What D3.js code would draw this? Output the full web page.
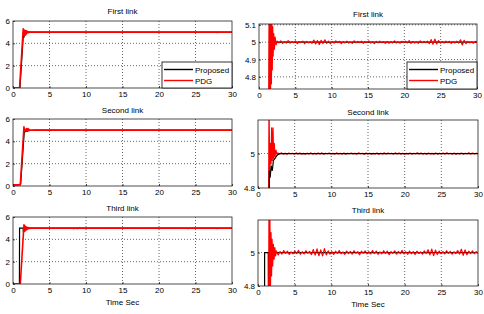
<!DOCTYPE html>
<html lang="en">
<head>
<meta charset="utf-8">
<title>Link tracking</title>
<script src="https://cdn.jsdelivr.net/npm/d3@7"></script>
<style>
  body { margin: 0; background: #fff; }
  text { font-family: "Liberation Sans", Arial, sans-serif; fill: #000; }
  .grid line { stroke: #000; stroke-width: 0.8; stroke-dasharray: 1,2; opacity: 0.75; }
</style>
</head>
<body>
<div id="chart"></div>
<script>
// ---- data ----
const titles = ["First link", "Second link", "Third link"];
const legendLabels = ["Proposed", "PDG"];
const xTicks = [0, 5, 10, 15, 20, 25, 30];
const yTicksFull = [0, 2, 4, 6];
const yTicksZoomA = [4.8, 4.9, 5, 5.1];
const yTicksZoomB = [4.8, 5];

// transient part of each response, [time, value]
const propFirst = [[0,0],[0.95,0],[1.45,5.1],[1.5,4.5],[1.6,4.98],[1.8,5.01],[2.0,5.0],[30,5.0]];
const pdgFirst = [[0,0],[0.9,0],[1.4,5.3],[1.47,4.72],[1.53,5.2],[1.59,4.7],[1.65,5.15],[1.71,4.76],
  [1.77,5.12],[1.83,4.84],[1.89,5.09],[1.95,4.92],[2.03,5.05],[2.12,4.96],[2.22,5.03],[2.35,4.985]];
const propSecond = [[0,0.1],[0.9,0.15],[1.05,0.2],[1.55,4.9],[1.65,4.86],[1.8,4.93],[1.95,4.9],
  [2.1,4.96],[2.3,4.97],[2.6,4.99],[3.0,5.0],[30,5.0]];
const pdgSecond = [[0,0.1],[1.0,0.1],[1.5,5.3],[1.6,4.9],[1.7,5.06],[1.78,4.94],[1.86,5.15],[1.95,4.96],
  [2.05,5.15],[2.13,4.97],[2.22,5.06],[2.32,4.98],[2.45,5.02],[2.6,4.995]];
const propThird = [[0,0],[0.88,0],[0.9,5.0],[1.4,5.0],[1.42,4.7],[1.5,4.72],[1.56,5.0],[30,5.0]];
const pdgThird = [[0,0],[1.0,0],[1.5,5.3],[1.56,4.7],[1.62,5.22],[1.7,4.78],[1.78,5.12],[1.85,4.86],
  [1.92,5.08],[2.0,4.92],[2.1,5.05],[2.2,4.96],[2.3,5.03],[2.4,4.98]];

// steady-state chatter of PDG around 5, in thousandths, evenly spaced up to t = 30
const noiseFirst = [
  6,-4,8,-7,3,-5,9,-6,2,-3, 7,-8,4,-2,6,-9,5,-4,3,-6,
  12,-10,9,-13,11,-8,14,-7,6,-9, 4,-5,7,-3,5,-8,3,-4,6,-5,
  2,-7,8,-4,5,-3,6,-6,4,-2, 7,-5,3,-8,5,-4,6,-3,4,-7,
  5,-6,3,-4,8,-5,2,-6,5,-3, 6,-4,9,-7,4,-5,3,-6,7,-4,
  5,-3,6,-8,15,-12,18,-10,9,-6, 4,-5,6,-3,5,-7,3,-4,6,-5,
  14,-16,11,-9,5,-4,3,-6,5,-2];
const noiseSecond = [
  3,-2,4,-3,2,-4,3,-1,2,-3, 4,-2,3,-4,1,-3,2,-2,4,-3,
  2,-3,3,-2,4,-4,2,-1,3,-2, 1,-3,4,-2,2,-3,3,-4,2,-1,
  3,-2,2,-3,4,-1,2,-4,3,-2, 2,-3,1,-2,3,-4,2,-2,4,-3,
  3,-1,2,-3,4,-2,3,-3,2,-4, 1,-2,3,-3,2,-1,4,-2,3,-3,
  2,-4,3,-2,1,-3,4,-3,2,-2, 3,-2,4,-1,2,-3,3,-4,2,-2,
  3,-3,2,-1,4,-2,3,-2,2,-1];
const noiseThird = [
  10,-14,6,-9,12,-5,8,-11,4,-7, 9,-6,13,-10,5,-8,11,-4,7,-12,
  18,-15,22,-19,16,-20,24,-14,10,-9, 6,-11,8,-5,12,-7,4,-10,9,-6,
  7,-9,11,-4,6,-13,8,-5,10,-7, 5,-8,12,-6,9,-10,4,-7,11,-5,
  8,-12,6,-4,10,-9,7,-6,13,-8, 5,-10,9,-7,6,-11,8,-5,4,-9,
  10,-6,17,-14,21,-18,15,-12,9,-7, 6,-8,11,-5,7,-10,5,-6,12,-9,
  20,-17,16,-13,8,-6,10,-7,6,-4];

function withNoise(transient, noise, tStart) {
  const step = (30 - tStart) / (noise.length - 1);
  return transient.concat(noise.map((d, i) => [tStart + i * step, 5 + d / 1000]));
}

const proposed = [propFirst, propSecond, propThird];
const pdg = [withNoise(pdgFirst, noiseFirst, 2.5),
             withNoise(pdgSecond, noiseSecond, 2.7),
             withNoise(pdgThird, noiseThird, 2.5)];

// ---- layout ----
const panels = [
  {row: 0, x0: 13, x1: 232, y0: 21, y1: 88, domain: [0, 6], ticks: yTicksFull, titleY: 14, legend: true},
  {row: 0, x0: 259, x1: 477, y0: 24, y1: 89, domain: [4.73, 5.105], ticks: yTicksZoomA, titleY: 17, legend: true},
  {row: 1, x0: 13, x1: 232, y0: 119, y1: 186, domain: [0, 6], ticks: yTicksFull, titleY: 113},
  {row: 1, x0: 258, x1: 478, y0: 120, y1: 188, domain: [4.8, 5.195], ticks: yTicksZoomB, titleY: 115, blackTop: true},
  {row: 2, x0: 13, x1: 232, y0: 217, y1: 284, domain: [0, 6], ticks: yTicksFull, titleY: 211, xlabelY: 305},
  {row: 2, x0: 258, x1: 478, y0: 220, y1: 286, domain: [4.8, 5.195], ticks: yTicksZoomB, titleY: 213, xlabelY: 307}
];

const svg = d3.select("#chart").append("svg")
  .attr("width", 484).attr("height", 314);

panels.forEach((p, k) => {
  const x = d3.scaleLinear().domain([0, 30]).range([p.x0, p.x1]);
  const y = d3.scaleLinear().domain(p.domain).range([p.y1, p.y0]);
  const g = svg.append("g");
  const cx = (p.x0 + p.x1) / 2;

  g.append("rect").attr("x", p.x0).attr("y", p.y0)
    .attr("width", p.x1 - p.x0).attr("height", p.y1 - p.y0).attr("fill", "#fff");

  const grid = g.append("g").attr("class", "grid");
  grid.selectAll(".gx").data(xTicks.slice(1, -1)).join("line")
    .attr("x1", d => x(d)).attr("x2", d => x(d)).attr("y1", p.y0).attr("y2", p.y1);
  grid.selectAll(".gy").data(p.ticks.filter(d => y(d) > p.y0 + 0.5 && y(d) < p.y1 - 0.5)).join("line")
    .attr("y1", d => y(d)).attr("y2", d => y(d)).attr("x1", p.x0).attr("x2", p.x1);

  const clipId = "clip" + k;
  g.append("clipPath").attr("id", clipId).append("rect")
    .attr("x", p.x0).attr("y", p.y0).attr("width", p.x1 - p.x0).attr("height", p.y1 - p.y0);

  const line = d3.line().x(d => x(d[0])).y(d => y(d[1]));
  const lines = g.append("g").attr("clip-path", `url(#${clipId})`);
  const left = p.domain[0] === 0;
  const drawBlack = () => lines.append("path").datum(proposed[p.row])
    .attr("d", line).attr("fill", "none").attr("stroke", "#000").attr("stroke-width", 1.2);
  const drawRed = () => lines.append("path").datum(pdg[p.row])
    .attr("d", line).attr("fill", "none").attr("stroke", "#f00")
    .attr("stroke-width", left ? 1.6 : 1.2).attr("stroke-linejoin", "round");
  if (p.blackTop) { drawRed(); drawBlack(); } else { drawBlack(); drawRed(); }

  // box and inward ticks
  g.append("rect").attr("x", p.x0).attr("y", p.y0)
    .attr("width", p.x1 - p.x0).attr("height", p.y1 - p.y0)
    .attr("fill", "none").attr("stroke", "#222").attr("stroke-width", 0.8);
  const xAxis = d3.axisBottom(x).tickValues(xTicks).tickSize(-2).tickPadding(3).tickFormat(d3.format("d"));
  const yAxis = d3.axisLeft(y).tickValues(p.ticks).tickSize(-2).tickPadding(3).tickFormat(d => String(d));
  const ax = g.append("g").attr("transform", `translate(0,${p.y1})`).call(xAxis);
  const ay = g.append("g").attr("transform", `translate(${p.x0},0)`).call(yAxis);
  [ax, ay].forEach(a => {
    a.select(".domain").remove();
    a.selectAll("line").attr("stroke", "#222").attr("stroke-width", 0.8);
    a.selectAll("text").attr("font-size", 8).attr("fill", "#000")
      .style("font-family", '"Liberation Sans", Arial, sans-serif');
  });

  g.append("text").attr("x", cx).attr("y", p.titleY).attr("text-anchor", "middle")
    .attr("font-size", 8).text(titles[p.row]);
  if (p.xlabelY) {
    g.append("text").attr("x", cx).attr("y", p.xlabelY).attr("text-anchor", "middle")
      .attr("font-size", 8).text("Time Sec");
  }

  if (p.legend) {
    const lx = p.x1 - 70, ly = 62;
    const lg = g.append("g");
    lg.append("rect").attr("x", lx).attr("y", ly).attr("width", 70).attr("height", p.y1 - ly)
      .attr("fill", "#fff").attr("stroke", "#000").attr("stroke-width", 0.8);
    legendLabels.forEach((name, i) => {
      const yy = ly + 7.5 + i * 11;
      lg.append("line").attr("x1", lx + 2).attr("x2", lx + 31).attr("y1", yy).attr("y2", yy)
        .attr("stroke", i === 0 ? "#000" : "#f00").attr("stroke-width", 1.4);
      lg.append("text").attr("x", lx + 33).attr("y", yy + 3).attr("font-size", 8).text(name);
    });
  }
});
</script>
</body>
</html>
